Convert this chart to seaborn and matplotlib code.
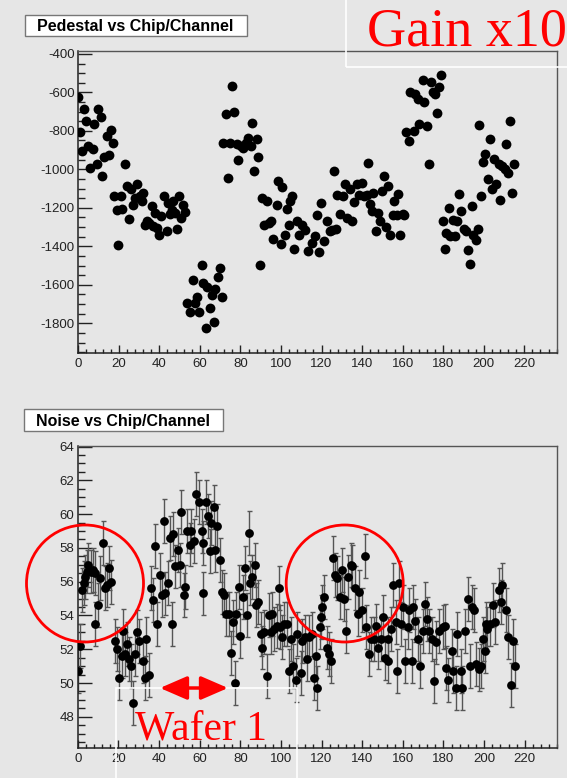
import matplotlib
matplotlib.use("Agg")
import matplotlib.pyplot as plt
from matplotlib.ticker import MultipleLocator
from matplotlib.patches import Rectangle, Ellipse, FancyArrowPatch
import seaborn as sns
import pandas as pd

# ---------------- data ----------------
# Pedestal per chip/channel (gain x10)
ped_chan = [0, 0.8, 1.8, 2.8, 3.8, 5.0, 5.8, 7.4, 7.9, 9.0, 9.9, 11.0, 11.8, 12.8, 14.0, 15.3,
            16.0, 17.0, 17.6, 18.9, 19.7, 21.0, 21.7, 23.0, 23.9, 25.0, 25.8, 26.8, 28.0, 28.8,
            30.4, 31.3, 31.8, 33.0, 34.0, 35.0, 36.2, 37.0, 37.8, 38.7, 39.8, 41.0, 42.4, 43.6,
            44.4, 45.2, 46.4, 46.9, 47.7, 48.5, 49.7, 50.5, 51.5, 52.6,
            53.8, 55.1, 56.4, 57.6, 58.4, 59.7, 60.9, 61.7, 62.9, 63.3, 65.0, 65.8, 67.0, 67.6,
            69.1, 69.9, 71.1,
            71.6, 72.7, 73.7, 74.9, 76.0, 76.8, 78.2, 79.0, 80.3, 81.4, 82.8, 83.9, 85.0, 85.7,
            86.7, 88.0, 88.8, 89.7,
            90.5, 91.6, 93.0, 94.3, 95.1, 96.2, 97.9, 98.7, 99.9, 100.7, 102.0, 102.8, 104.0,
            104.5, 105.6, 106.6, 107.8, 109.0,
            110.2, 111.9, 113.5, 115.2, 116.8, 117.7, 118.8, 119.8, 121.3, 122.6, 124.0, 125.1,
            125.9, 127.2, 127.6, 128.9, 130.5, 131.6, 132.5, 133.8, 134.9, 135.8, 137.4, 138.7,
            139.9, 141.0, 142.3, 142.8, 144.0, 144.8, 145.6, 147.0, 148.0, 148.9, 150.0, 150.9,
            151.9, 153.0, 153.8, 155.2, 155.8, 157.1, 157.9, 158.8, 160.0, 160.9,
            161.7, 162.9, 163.7, 165.7, 166.2, 167.4, 168.3, 170.0, 170.6, 171.9, 172.8, 174.0,
            175.0, 176.1, 176.9, 178.0, 179.0,
            179.8, 181.0, 181.3, 183.0, 183.5, 184.6, 185.9, 186.7, 188.0, 188.9, 190.1, 191.4,
            192.0, 193.0, 194.0, 194.9, 196.1, 197.0,
            197.8, 198.8, 199.6, 200.7, 201.9, 202.9, 204.1, 204.9, 206.2, 207.3, 208.1, 209.0,
            210.3, 210.9, 211.8, 212.8, 213.9, 214.7]
ped_val = [-626, -805, -904, -687, -748, -878, -991, -896, -765, -974, -687, -727, -1035, -934,
           -826, -927, -795, -861, -1136, -1212, -1391, -1139, -1205, -974, -1087, -1256, -1104,
           -1183, -1148, -1075, -1139, -1165, -1125, -1287, -1270, -1278, -1191, -1296, -1226,
           -1304, -1343, -1243, -1139, -1322, -1174, -1231, -1209, -1165, -1226, -1308, -1136,
           -1252, -1186, -1221,
           -1696, -1739, -1574, -1696, -1664, -1739, -1496, -1591, -1823, -1612, -1722, -1652,
           -1791, -1623, -1557, -1513, -1664,
           -861, -713, -1043, -864, -565, -700, -867, -951, -878, -887, -864, -835, -878, -760,
           -1009, -843, -934, -1499,
           -1151, -1287, -1165, -1278, -1270, -1362, -1186, -1061, -1386, -1090, -1339, -1205,
           -1287, -1165, -1139, -1412, -1270, -1339,
           -1287, -1313, -1426, -1383, -1348, -1238, -1431, -1174, -1374, -1270, -1322, -1313,
           -1009, -1308, -1134, -1230, -1139, -1075, -1252, -1104, -1270, -1169, -1075, -1134,
           -1070, -1136, -1134, -969, -1179, -1217, -1125, -1322, -1226, -1270, -1113, -1035,
           -1300, -1087, -1339, -1235, -1165, -1235, -1130, -1339, -1231, -1238,
           -805, -852, -597, -800, -609, -635, -765, -534, -652, -774, -974, -548,
           -597, -609, -708, -571, -508,
           -1270, -1412, -1330, -1200, -1344, -1264, -1348, -1270, -1127, -1214, -1308, -1322,
           -1417, -1492, -1188, -1339, -1365, -1308,
           -769, -1139, -962, -918, -1052, -843, -1104, -948, -1078, -974, -1160, -983,
           -1000, -870, -1021, -748, -1125, -970]

# Noise per chip/channel
noise_chan = [0.3, 1.1, 2.0, 3.3, 3.6, 4.6, 5.3, 6.4, 7.7, 8.3, 8.6, 9.9, 11.0, 12.3, 13.3,
              14.3, 15.2, 16.6,
              18.2, 19.2, 20.1, 21.7, 22.2, 23.3, 24.2, 25.0, 26.2, 27.1, 28.0, 29.1, 30.3,
              32.1, 33.2, 33.7, 34.9,
              36.2, 37.0, 38.2, 39.0, 40.3, 41.4, 42.3, 43.1, 44.2, 45.2, 46.4, 46.7, 48.0,
              49.2, 50.5, 51.0, 52.3, 53.0, 53.8, 55.1, 55.9, 57.1, 58.2, 59.9, 61.2, 61.7,
              61.9, 63.3, 64.0, 65.0, 65.6, 67.0, 67.8, 68.6, 70.0,
              71.1, 71.9, 73.2, 74.4, 75.2, 76.5, 77.3, 78.1, 79.3, 80.1, 81.4, 82.1, 83.4,
              84.2, 85.0, 85.9, 87.2, 87.5, 88.8, 90.0, 90.8, 91.6, 93.0, 94.1, 94.9, 95.7,
              96.6, 97.9, 99.0, 99.5, 100.7, 101.5, 102.8, 104.0, 104.8, 106.1, 107.3, 108.1,
              109.7, 110.5, 111.7, 113.0, 113.8, 115.5, 116.3, 117.1, 117.9, 119.1, 119.9,
              120.4, 121.3, 122.6, 123.7,
              124.5, 125.4, 126.7, 127.8, 129.0, 130.0, 131.1, 131.9, 133.2, 134.4, 135.2,
              136.5, 137.7, 138.5, 139.8, 141.3, 142.1, 143.1, 144.3, 145.9, 147.0, 148.0,
              149.2, 150.3, 151.3, 152.5, 152.9, 154.3, 155.1, 156.6, 157.1, 158.3, 159.1,
              160.2, 161.2, 162.4, 163.2, 164.5, 165.2, 166.2, 167.3, 168.5, 169.8, 171.0,
              171.8, 173.1, 174.4, 175.1, 176.4, 178.0,
              179.6, 180.5, 181.3, 182.1, 184.1, 184.6, 186.2, 186.8, 188.4, 189.0, 190.4,
              192.0, 192.8, 194.0, 195.0, 196.1, 197.3, 198.3, 199.4, 200.2, 201.0, 201.6,
              203.0, 204.2, 205.5, 207.1, 208.1, 208.9, 210.6, 211.7, 213.0, 214.2, 215.0]
noise_val = [50.7, 52.2, 55.5, 55.9, 56.3, 56.6, 57.0, 56.6, 56.7, 56.5, 53.5, 54.6, 56.2, 58.3,
             55.6, 55.8, 56.8, 56.0,
             52.5, 52.0, 50.3, 51.6, 53.1, 51.7, 52.3, 51.4, 51.0, 48.8, 51.7, 53.0, 52.5,
             51.3, 50.3, 52.6, 50.5,
             55.6, 54.9, 58.1, 53.5, 56.4, 55.2, 59.6, 55.3, 55.9, 58.6, 53.5, 58.8, 56.9,
             57.9, 57.0, 60.1, 55.2, 55.7, 59.0, 58.2, 59.0, 58.4, 61.2, 60.7, 59.0, 55.3,
             58.3, 60.7, 59.9, 57.8, 59.5, 60.4, 57.9, 59.3, 57.3,
             55.4, 55.2, 54.1, 54.1, 51.8, 53.6, 50.0, 54.1, 55.7, 52.8, 55.1, 56.8, 54.0,
             58.9, 55.9, 56.3, 57.0, 54.6, 54.8, 52.9, 52.1, 53.0, 50.4, 54.0, 53.0, 54.1,
             53.2, 53.4, 55.6, 53.3, 52.7, 53.5, 53.5, 50.7, 52.6, 51.0, 50.2, 52.9,
             50.6, 52.5, 52.7, 51.4, 52.7, 52.9, 50.3, 51.6, 49.7, 53.3, 53.9,
             54.5, 55.1, 52.1, 51.7,
             51.3, 57.4, 56.4, 56.2, 55.1, 56.7, 55.0, 53.1, 56.3, 57.0, 56.9,
             55.6, 54.1, 55.4, 54.3, 57.5, 53.3, 51.7, 52.6, 52.6, 53.4, 52.1,
             52.6, 53.9, 51.5, 51.3, 52.6, 53.2, 55.8, 53.6, 50.7, 55.9, 53.5,
             54.5, 51.3, 53.3, 54.3, 51.3, 54.5, 53.7, 52.6, 51.0, 53.1, 54.7,
             53.8, 53.1, 52.6, 50.1, 52.4, 53.1,
             53.3, 53.4, 50.9, 50.2, 51.9, 50.7, 49.7, 52.9, 50.7, 49.7, 53.1,
             55.0, 51.0, 54.5, 54.3, 51.1, 50.8, 51.0, 52.6, 51.9, 53.5, 53.2,
             53.5, 54.6, 53.6, 55.5, 54.8, 55.8, 54.3, 52.7, 49.9, 52.5, 51.0]
noise_err = 1.3

x_ticks = list(range(0, 221, 20))

# ---------------- figure ----------------
W, H = 567, 778
sns.set_style("ticks")
plt.rcParams["font.family"] = ["Liberation Sans", "DejaVu Sans"]
plt.rcParams["axes.unicode_minus"] = False

BG = "#e6e6e6"
fig = plt.figure(figsize=(W / 100, H / 100), dpi=100, facecolor=BG)


def fx(px):
    return px / W


def fy(py):
    return 1 - py / H


def axes_from_px(left, top, right, bottom):
    return fig.add_axes([fx(left), fy(bottom), (right - left) / W, (bottom - top) / H])


def style_axes(ax, ymajor, yminor, ylen):
    ax.set_facecolor(BG)
    ax.set_xlim(0, 236)
    ax.xaxis.set_major_locator(MultipleLocator(20))
    ax.xaxis.set_minor_locator(MultipleLocator(4))
    ax.yaxis.set_major_locator(MultipleLocator(ymajor))
    ax.yaxis.set_minor_locator(MultipleLocator(yminor))
    ax.set_xticks(x_ticks)
    ax.tick_params(axis="both", which="both", direction="in", colors="#222222",
                   labelsize=9.5, width=1.0)
    ax.tick_params(axis="x", which="major", length=6, pad=3.5)
    ax.tick_params(axis="x", which="minor", length=3)
    ax.tick_params(axis="y", which="major", length=ylen, pad=2.5)
    ax.tick_params(axis="y", which="minor", length=ylen / 2)
    for side in ("left", "bottom"):
        ax.spines[side].set_color("#222222")
        ax.spines[side].set_linewidth(1.1)
    for side in ("top", "right"):
        ax.spines[side].set_visible(True)
        ax.spines[side].set_color("#555555")
        ax.spines[side].set_linewidth(1.0)
    ax.set_xlabel("")
    ax.set_ylabel("")
    ax.grid(False)


# ---- pedestal panel ----
ax1 = axes_from_px(78.3, 51, 556.7, 352.7)
ped_df = pd.DataFrame({"chan": ped_chan, "ped": ped_val})
sns.scatterplot(data=ped_df, x="chan", y="ped", ax=ax1, color="black",
                s=50, linewidth=0, zorder=3)
ax1.set_ylim(-1953, -385)
style_axes(ax1, 200, 50, 10)

# ---- noise panel ----
ax2 = axes_from_px(77.7, 445.7, 557.3, 747.7)
noise_df = pd.DataFrame({"chan": noise_chan, "noise": noise_val})
ax2.errorbar(noise_df["chan"], noise_df["noise"], yerr=noise_err, fmt="none",
             ecolor="#555555", elinewidth=1.0, capsize=1.8, capthick=1.0, zorder=2)
sns.scatterplot(data=noise_df, x="chan", y="noise", ax=ax2, color="black",
                s=40, linewidth=0, zorder=3)
ax2.set_ylim(46.17, 64.05)
style_axes(ax2, 2, 0.5, 10)

# ---- panel titles ----
for (l, t, r, b), label in (((24.6, 15, 246.7, 35.5), "Pedestal vs Chip/Channel"),
                            ((24.0, 409, 222.7, 430.7), "Noise vs Chip/Channel")):
    fig.add_artist(Rectangle((fx(l), fy(b)), (r - l) / W, (b - t) / H,
                             transform=fig.transFigure, facecolor="white",
                             edgecolor="#777777", linewidth=1.0, zorder=5))
    fig.text(fx((l + r) / 2), fy((t + b) / 2), label, ha="center", va="center_baseline",
             fontsize=11.5, fontweight="bold", color="black", zorder=6)

# ---- annotations ----
serif = ["Liberation Serif", "DejaVu Serif"]

# outline of the gain label box
fig.add_artist(Rectangle((fx(346), fy(67)), (W + 10 - 346) / W, 70 / H,
                         transform=fig.transFigure, fill=False, edgecolor="white",
                         linewidth=1.2, zorder=7))
fig.text(fx(366.7), fy(45.7), "Gain x10", ha="left", va="baseline", fontsize=39,
         family=serif, color="red", zorder=8)

# outline of the wafer label box
fig.add_artist(Rectangle((fx(116), fy(H + 10)), (297 - 116) / W, (H + 10 - 688) / H,
                         transform=fig.transFigure, fill=False, edgecolor="white",
                         linewidth=1.2, zorder=7))
fig.text(fx(135), fy(740), "Wafer 1", ha="left", va="baseline", fontsize=30,
         family=serif, color="red", zorder=8)

fig.add_artist(FancyArrowPatch((fx(160), fy(688)), (fx(228), fy(688)),
                               transform=fig.transFigure,
                               arrowstyle="<|-|>,head_length=1.66,head_width=0.72",
                               mutation_scale=10, color="red", linewidth=2.5,
                               shrinkA=0, shrinkB=0, zorder=8))

# circled regions
for cx, cy in ((85, 583.5), (344.7, 583.5)):
    fig.add_artist(Ellipse((fx(cx), fy(cy)), 2 * 58.5 / W, 2 * 58.5 / H,
                           transform=fig.transFigure, fill=False, edgecolor="red",
                           linewidth=2.0, zorder=8))

fig.savefig("out.png", dpi=100, facecolor=BG)
